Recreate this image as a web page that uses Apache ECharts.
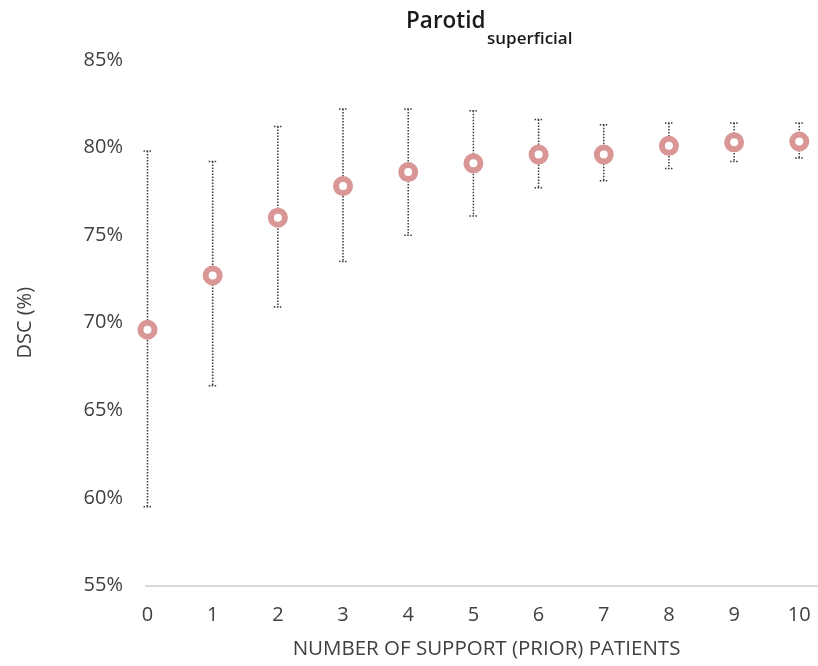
<!DOCTYPE html>
<html>
<head>
<meta charset="utf-8">
<script src="https://cdn.jsdelivr.net/npm/echarts@6/dist/echarts.min.js"></script>
<style>
  html, body { margin: 0; padding: 0; background: #fff; }
  #chart { width: 818px; height: 666px; }
</style>
</head>
<body>
<div id="chart"></div>
<script>
// Number of support (prior) patients
const supportCounts = [0, 1, 2, 3, 4, 5, 6, 7, 8, 9, 10];
// Mean DSC (%) for each count
const meanDsc = [69.6, 72.7, 76.0, 77.8, 78.6, 79.1, 79.6, 79.6, 80.1, 80.3, 80.35];
// Error bar limits (%)
const lowerDsc = [59.5, 66.4, 70.9, 73.5, 75.0, 76.1, 77.7, 78.1, 78.8, 79.2, 79.4];
const upperDsc = [79.8, 79.2, 81.2, 82.2, 82.2, 82.1, 81.6, 81.3, 81.4, 81.4, 81.4];
// Y axis tick values
const yTicks = [55, 60, 65, 70, 75, 80, 85];

const font = '"Open Sans", "Liberation Sans", sans-serif';
const textColor = '#404040';

const meanPoints = supportCounts.map((x, i) => [x, meanDsc[i]]);
const errorRanges = supportCounts.map((x, i) => [x, lowerDsc[i], upperDsc[i]]);

const dotted = { stroke: '#3a3a3a', lineWidth: 1.5, lineDash: [1.5, 1.5] };

// Dotted vertical whisker with short dotted caps at both ends
function renderErrorBar(params, api) {
  const x = api.value(0);
  const top = api.coord([x, api.value(2)]);
  const bot = api.coord([x, api.value(1)]);
  const half = 4;
  return {
    type: 'group',
    children: [
      { type: 'line', shape: { x1: top[0], y1: top[1], x2: bot[0], y2: bot[1] }, style: dotted },
      { type: 'line', shape: { x1: top[0] - half, y1: top[1], x2: top[0] + half, y2: top[1] }, style: dotted },
      { type: 'line', shape: { x1: bot[0] - half, y1: bot[1], x2: bot[0] + half, y2: bot[1] }, style: dotted }
    ]
  };
}

const chart = echarts.init(document.getElementById('chart'), null, { renderer: 'canvas' });
chart.setOption({
  animation: false,
  backgroundColor: '#fff',
  graphic: [
    {
      type: 'text', x: 406, y: 22,
      style: { text: 'Parotid', font: '600 22.5px ' + font, fill: '#1a1a1a', verticalAlign: 'middle' }
    },
    {
      type: 'text', x: 487, y: 39,
      style: { text: 'superficial', font: '600 17px ' + font, fill: '#1a1a1a', verticalAlign: 'middle' }
    }
  ],
  grid: { left: 146, right: 0, top: 60, bottom: 80.5, containLabel: false },
  xAxis: {
    type: 'value',
    min: -0.023,
    max: 10.287,
    name: 'NUMBER OF SUPPORT (PRIOR) PATIENTS',
    nameLocation: 'middle',
    nameGap: 53,
    nameTextStyle: { fontFamily: font, fontSize: 20.5, color: textColor, padding: [0, 0, 0, 9] },
    axisLine: { show: true, lineStyle: { color: '#d9d9d9', width: 2 } },
    axisTick: { show: false },
    splitLine: { show: false },
    axisLabel: {
      customValues: supportCounts,
      fontFamily: font, fontSize: 20, color: textColor, margin: 20
    }
  },
  yAxis: {
    type: 'value',
    min: 55,
    max: 85,
    interval: 5,
    name: 'DSC (%)',
    nameLocation: 'middle',
    nameGap: 111,
    nameTextStyle: { fontFamily: font, fontSize: 20, color: textColor },
    axisLine: { show: false },
    axisTick: { show: false },
    splitLine: { show: false },
    axisLabel: {
      customValues: yTicks,
      formatter: '{value}%',
      fontFamily: font, fontSize: 20, color: textColor, margin: 23
    }
  },
  series: [
    {
      type: 'custom',
      renderItem: renderErrorBar,
      data: errorRanges,
      encode: { x: 0, y: [1, 2] },
      z: 1
    },
    {
      type: 'scatter',
      data: meanPoints,
      symbol: 'circle',
      symbolSize: 14,
      itemStyle: { color: '#ffffff', borderColor: '#d99694', borderWidth: 6, opacity: 1 },
      z: 3
    }
  ]
});
</script>
</body>
</html>
